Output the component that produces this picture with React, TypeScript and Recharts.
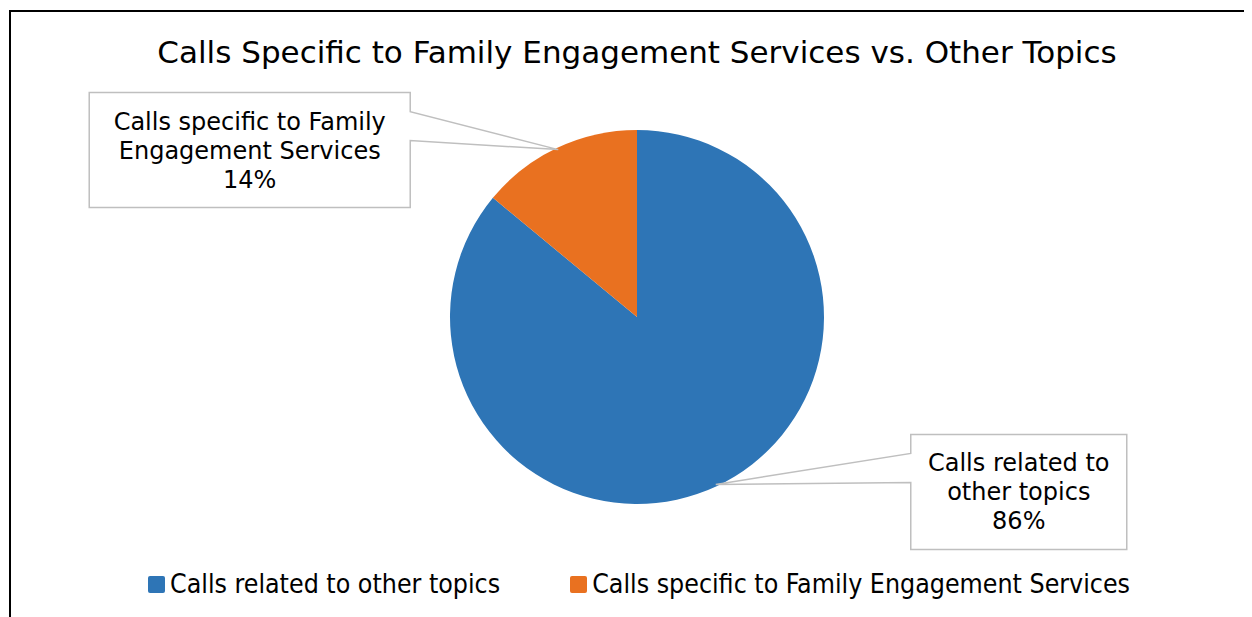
import React from "react";
import { PieChart, Pie, Cell, Legend } from "recharts";

const title = "Calls Specific to Family Engagement Services vs. Other Topics";
const categories = ["Calls related to other topics", "Calls specific to Family Engagement Services"];
const labelLines = [
  ["Calls related to", "other topics"],
  ["Calls specific to Family", "Engagement Services"],
];
const shares = [86, 14];
const colors = ["#2E75B6", "#E97120"];

const data = categories.map((name, i) => ({ name, value: shares[i] }));

const FONT = "'DejaVu Sans', Verdana, sans-serif";
const RAD = Math.PI / 180;

const renderLabel = (props: any) => {
  const { cx, cy, midAngle, outerRadius, index, percent } = props;
  const tipR = outerRadius - 2;
  const tx = cx + tipR * Math.cos(-midAngle * RAD);
  const ty = cy + tipR * Math.sin(-midAngle * RAD);
  const isLeft = Math.cos(-midAngle * RAD) < 0;
  const w = isLeft ? 321 : 216;
  const h = 115;
  const gap = isLeft ? 148 : 195;
  const top = ty - (isLeft ? 57 : 50);
  const left = isLeft ? tx - gap - w : tx + gap;
  const right = left + w;
  const bottom = top + h;
  const a1 = top + 19;
  const a2 = top + 48;
  let d: string;
  if (isLeft) {
    d = `M${left},${top} L${right},${top} L${right},${a1} L${tx},${ty} L${right},${a2} L${right},${bottom} L${left},${bottom} Z`;
  } else {
    d = `M${left},${top} L${right},${top} L${right},${bottom} L${left},${bottom} L${left},${a2} L${tx},${ty} L${left},${a1} Z`;
  }
  const lines = [...labelLines[index], `${Math.round(percent * 100)}%`];
  const centerX = (left + right) / 2;
  return (
    <g key={`lbl-${index}`}>
      <path d={d} fill="#fff" stroke="#BFBFBF" strokeWidth={1.5} />
      {lines.map((t, k) => (
        <text
          key={k}
          x={centerX}
          y={top + 37 + k * 29}
          textAnchor="middle"
          fontFamily={FONT}
          fontSize={24}
          fill="#000"
        >
          {t}
        </text>
      ))}
    </g>
  );
};

const renderLegend = (props: any) => {
  const { payload } = props;
  return (
    <div
      style={{
        display: "flex",
        justifyContent: "flex-start",
        paddingLeft: 140,
        fontFamily: "'DejaVu Sans Condensed', 'DejaVu Sans', sans-serif",
        fontSize: 26.5,
        color: "#000",
        lineHeight: "32px",
      }}
    >
      {payload.map((p: any, i: number) => (
        <div key={i} style={{ display: "flex", alignItems: "center", marginRight: 70 }}>
          <span
            style={{
              display: "inline-block",
              width: 17,
              height: 17,
              borderRadius: 2,
              background: p.color,
              marginRight: 5,
            }}
          />
          <span>{p.value}</span>
        </div>
      ))}
    </div>
  );
};

export default function App() {
  return (
    <div style={{ position: "relative", width: 1236, height: 609, background: "#fff", overflow: "hidden" }}>
      <div style={{ position: "absolute", left: 1, top: 2, width: 1300, height: 2, background: "#000" }} />
      <div style={{ position: "absolute", left: 1, top: 2, width: 2, height: 700, background: "#000" }} />
      <div
        style={{
          position: "absolute",
          left: 0,
          top: 25,
          width: 1258,
          textAlign: "center",
          fontFamily: FONT,
          fontSize: 31,
          color: "#000",
          lineHeight: "38px",
          whiteSpace: "nowrap",
        }}
      >
        {title}
      </div>
      <div style={{ position: "absolute", left: 0, top: 0 }}>
        <PieChart width={1236} height={609} margin={{ top: 0, right: 0, bottom: 0, left: 0 }}>
          <Pie
            data={data}
            dataKey="value"
            nameKey="name"
            cx={629}
            cy={309}
            outerRadius={187}
            startAngle={90}
            endAngle={-270}
            stroke="none"
            isAnimationActive={false}
            label={renderLabel}
            labelLine={false}
          >
            {data.map((_, i) => (
              <Cell key={i} fill={colors[i]} />
            ))}
          </Pie>
          <Legend
            verticalAlign="bottom"
            align="left"
            wrapperStyle={{ top: 560, left: 0, width: 1236 }}
            content={renderLegend}
          />
        </PieChart>
      </div>
    </div>
  );
}
